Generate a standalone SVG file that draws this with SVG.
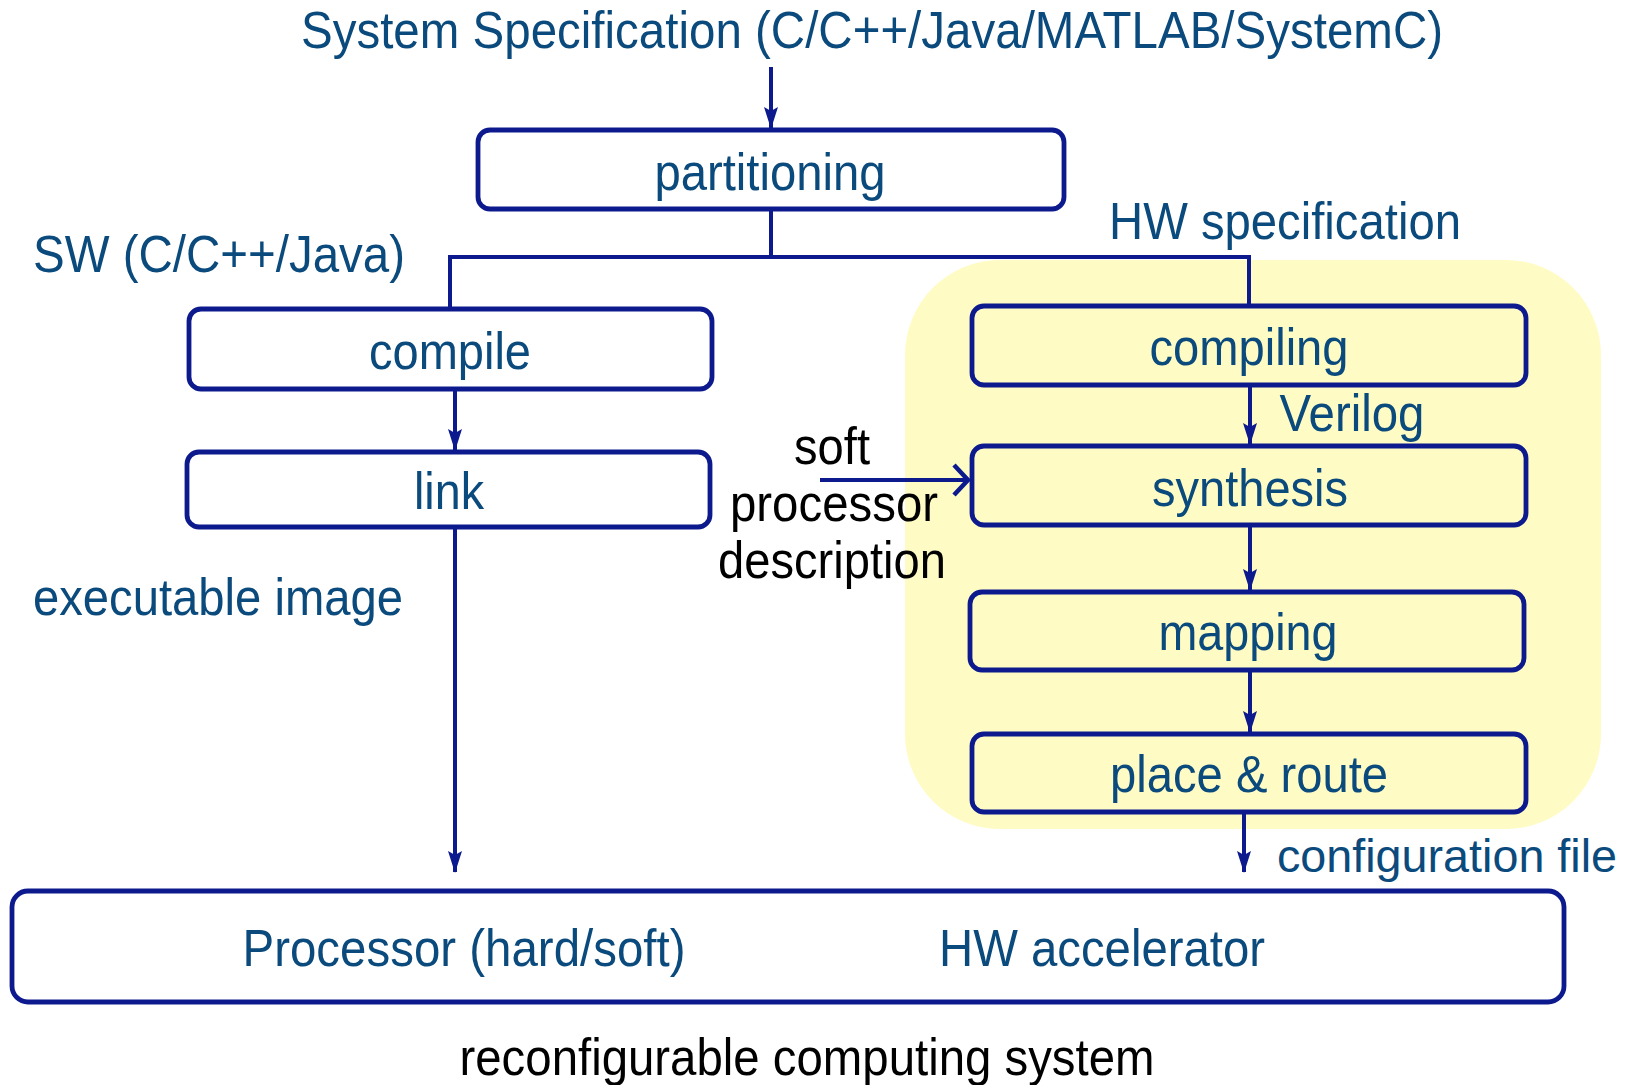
<svg xmlns="http://www.w3.org/2000/svg" width="1628" height="1085" viewBox="0 0 1628 1085">
<defs>
<style>
.t{font-family:"Liberation Sans",Arial,sans-serif;font-size:52px;fill:#0B4A7C;text-anchor:middle}
.k{fill:#000}
.box{fill:#fff;stroke:#0D1A8E;stroke-width:4.8}
.ybox{fill:#FFFBC4;stroke:#0D1A8E;stroke-width:4.8}
.ln{fill:none;stroke:#0D1A8E;stroke-width:4}
</style>
<marker id="ah" markerUnits="userSpaceOnUse" markerWidth="22" markerHeight="14" refX="21" refY="7" orient="auto" viewBox="0 0 22 14">
<path d="M0,0 L22,7 L0,14 L4,7 z" fill="#0D1A8E"/>
</marker>
<marker id="ao" markerUnits="userSpaceOnUse" markerWidth="40" markerHeight="40" refX="20" refY="20" orient="auto" viewBox="0 0 40 40">
<path d="M6,5 L20,20 L6,35" fill="none" stroke="#0D1A8E" stroke-width="4.5"/>
</marker>
</defs>
<rect id="hw-region" x="905" y="260" width="696" height="569" rx="95" fill="#FFFBC4"/>
<g id="connectors">
<line class="ln" x1="771" y1="67" x2="771" y2="128" marker-end="url(#ah)"/>
<polyline class="ln" points="771,209 771,257 450,257 450,309"/>
<polyline class="ln" points="771,257 1249,257 1249,306"/>
<line class="ln" x1="455" y1="389" x2="455" y2="450" marker-end="url(#ah)"/>
<line class="ln" x1="455" y1="527" x2="455" y2="872" marker-end="url(#ah)"/>
<line class="ln" x1="1250" y1="385" x2="1250" y2="444" marker-end="url(#ah)"/>
<line class="ln" x1="820" y1="480" x2="968" y2="480" marker-end="url(#ao)"/>
<line class="ln" x1="1250" y1="525" x2="1250" y2="590" marker-end="url(#ah)"/>
<line class="ln" x1="1250" y1="670" x2="1250" y2="732" marker-end="url(#ah)"/>
<line class="ln" x1="1244" y1="812" x2="1244" y2="872" marker-end="url(#ah)"/>
</g>
<text class="t" x="872" y="48" textLength="1142" lengthAdjust="spacingAndGlyphs">System Specification (C/C++/Java/MATLAB/SystemC)</text>
<g id="partitioning">
<rect class="box" x="478" y="130" width="586" height="79" rx="12"/>
<text class="t" x="770" y="190" textLength="231" lengthAdjust="spacingAndGlyphs">partitioning</text>
</g>
<text class="t" x="219" y="272" textLength="372" lengthAdjust="spacingAndGlyphs">SW (C/C++/Java)</text>
<text class="t" x="1285" y="239" textLength="352" lengthAdjust="spacingAndGlyphs">HW specification</text>
<g id="compile">
<rect class="box" x="189" y="309" width="523" height="80" rx="12"/>
<text class="t" x="450" y="369" textLength="162" lengthAdjust="spacingAndGlyphs">compile</text>
</g>
<g id="link">
<rect class="box" x="187" y="452" width="523" height="75" rx="12"/>
<text class="t" x="449" y="509" textLength="70" lengthAdjust="spacingAndGlyphs">link</text>
</g>
<text class="t" x="218" y="615" textLength="370" lengthAdjust="spacingAndGlyphs">executable image</text>
<g id="compiling">
<rect class="ybox" x="972" y="306" width="554" height="79" rx="12"/>
<text class="t" x="1249" y="365" textLength="199" lengthAdjust="spacingAndGlyphs">compiling</text>
</g>
<text class="t" x="1352" y="431" textLength="145" lengthAdjust="spacingAndGlyphs">Verilog</text>
<g id="synthesis">
<rect class="ybox" x="972" y="446" width="554" height="79" rx="12"/>
<text class="t" x="1250" y="506" textLength="196" lengthAdjust="spacingAndGlyphs">synthesis</text>
</g>
<g id="soft-processor">
<text class="t k" x="832" y="464" textLength="76" lengthAdjust="spacingAndGlyphs">soft</text>
<text class="t k" x="834" y="521" textLength="208" lengthAdjust="spacingAndGlyphs">processor</text>
<text class="t k" x="832" y="578" textLength="228" lengthAdjust="spacingAndGlyphs">description</text>
</g>
<g id="mapping">
<rect class="ybox" x="970" y="592" width="554" height="78" rx="12"/>
<text class="t" x="1248" y="650" textLength="179" lengthAdjust="spacingAndGlyphs">mapping</text>
</g>
<g id="place-route">
<rect class="ybox" x="972" y="734" width="554" height="78" rx="12"/>
<text class="t" x="1249" y="792" textLength="278" lengthAdjust="spacingAndGlyphs">place &amp; route</text>
</g>
<text class="t" x="1277" y="872" style="text-anchor:start;font-size:47px" textLength="340" lengthAdjust="spacingAndGlyphs">configuration file</text>
<g id="system">
<rect class="box" x="12" y="891" width="1552" height="111" rx="16"/>
<text class="t" x="464" y="966" textLength="443" lengthAdjust="spacingAndGlyphs">Processor (hard/soft)</text>
<text class="t" x="1102" y="966" textLength="326" lengthAdjust="spacingAndGlyphs">HW accelerator</text>
</g>
<text class="t k" x="807" y="1075" textLength="695" lengthAdjust="spacingAndGlyphs">reconfigurable computing system</text>
</svg>
